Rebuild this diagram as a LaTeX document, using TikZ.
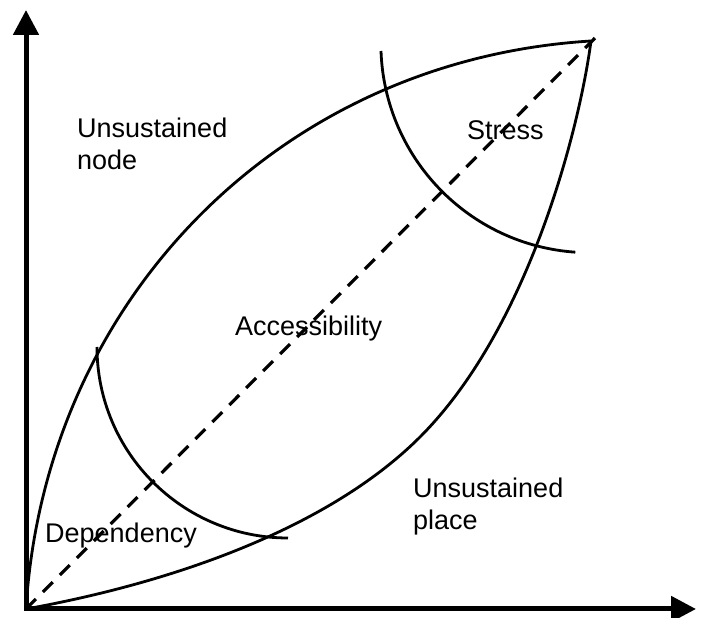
\documentclass[tikz,border=0pt]{standalone}
\usepackage{fontspec}
\setmainfont{Liberation Sans}
\usetikzlibrary{arrows.meta}

\begin{document}
\begin{tikzpicture}[
  x=1pt, y=1pt,
  >={Triangle[length=25pt,width=25pt]},
  line join=round,
  curve/.style={line width=2.8pt},
  every node/.style={font=\fontsize{27}{32}\selectfont, inner sep=0pt, anchor=base west, align=left}
]
  \useasboundingbox (0,0) rectangle (702,618);

  \coordinate (o)  at (26, 9);
  \coordinate (tp) at (591, 577);
  \coordinate (m)  at (420, 181);
  \coordinate (ya) at (26, 608);
  \coordinate (xa) at (696, 9);
  \coordinate (de) at (598, 583);

  % Axes
  \draw[<->, line width=5pt, line join=miter] (ya) |- (xa);

  % Diagonal
  \draw[line width=3.2pt, dash pattern=on 14pt off 10pt] (o) -- (de);

  % Upper and lower edges of the leaf
  \draw[curve] (o) .. controls (45, 318) and (280, 558) .. (tp);
  \draw[curve] (o) .. controls (176, 36) and (330, 91) .. (m)
                   .. controls (530, 291) and (580, 493) .. (tp);

  % Arcs cutting the ends
  \draw[curve] (97, 271) arc[start angle=180, end angle=270, radius=191];
  \draw[curve] (381, 567) arc[start angle=182, end angle=266, radius=209];

  \node (node)   at (77, 448)  {Unsustained\\node};
  \node (stress) at (467, 478) {Stress};
  \node (acc)    at (235, 282) {Accessibility};
  \node (place)  at (413, 88)  {Unsustained\\place};
  \node (dep)    at (45, 75)   {Dependency};
\end{tikzpicture}
\end{document}
